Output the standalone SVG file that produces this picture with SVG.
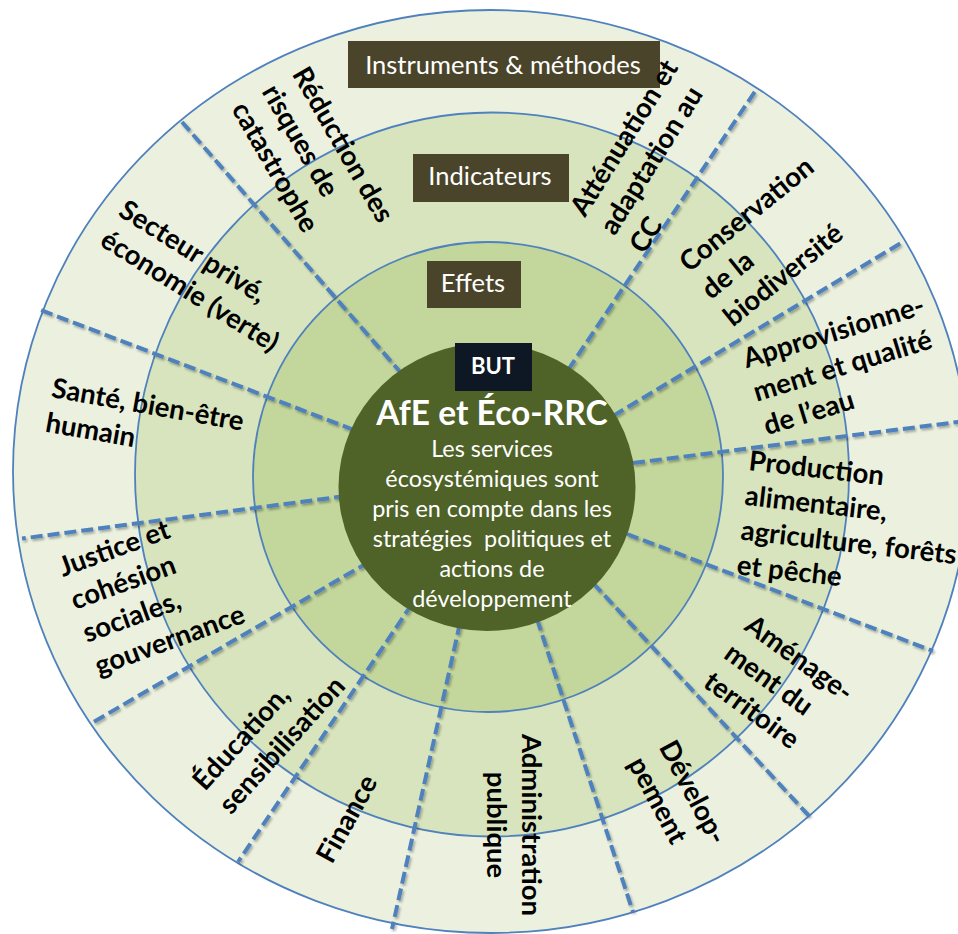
<svg xmlns="http://www.w3.org/2000/svg" width="958" height="934" viewBox="0 0 958 934">
<defs>
<style>
.ring{stroke:#4F81BD;stroke-width:1.8}
.div{stroke:#4F81BD;stroke-width:4;stroke-dasharray:12 5;fill:none}
.lbl{font-family:Lato,"Open Sans",sans-serif;font-weight:700;font-size:27.5px;fill:#000}
.box{fill:#4A452A}
.boxt{font-family:Lato,"Open Sans",sans-serif;font-size:25.5px;fill:#fff;text-anchor:middle}
.ctr{font-family:Lato,"Open Sans",sans-serif;fill:#fff;text-anchor:middle}
</style>
<filter id="sh" x="-10%" y="-10%" width="120%" height="120%">
<feDropShadow dx="1.5" dy="2" stdDeviation="1.2" flood-color="#000" flood-opacity="0.3"/>
</filter>
</defs>
<rect width="958" height="934" fill="#fff"/>
<g id="rings">
<ellipse class="ring" cx="491" cy="471.5" rx="478" ry="461.5" fill="#EBF1DE"/>
<ellipse class="ring" cx="492" cy="474.5" rx="357" ry="362" fill="#D7E4BD"/>
<circle class="ring" cx="488" cy="477" r="235" fill="#C3D69B"/>
</g>
<g id="connectors" class="div" filter="url(#sh)">
<line x1="402" y1="374" x2="182" y2="122"/>
<line x1="354" y1="430" x2="38" y2="309"/>
<line x1="346" y1="496" x2="22" y2="538.5"/>
<line x1="369" y1="562" x2="90" y2="724"/>
<line x1="412" y1="604" x2="238" y2="862"/>
<line x1="460" y1="623" x2="392" y2="929"/>
<line x1="537" y1="619" x2="633" y2="912"/>
<line x1="593" y1="583" x2="810" y2="817"/>
<line x1="627" y1="534" x2="933" y2="651"/>
<line x1="633" y1="463" x2="966" y2="421"/>
<line x1="613" y1="416" x2="901" y2="243"/>
<line x1="568" y1="370" x2="756" y2="90"/>
</g>
<g id="goal">
<ellipse cx="487" cy="487" rx="148.5" ry="144" fill="#4F6228"/>
<text class="ctr" x="492" y="425" font-size="33.5" font-weight="700">AfE et Éco-RRC</text>
<text class="ctr" font-size="23.4" xml:space="preserve"><tspan x="492" y="457">Les services</tspan><tspan x="492" y="487">écosystémiques sont</tspan><tspan x="492" y="517">pris en compte dans les</tspan><tspan x="492" y="547">stratégies  politiques et</tspan><tspan x="492" y="577">actions de</tspan><tspan x="492" y="607">développement</tspan></text>
</g>
<g id="but">
<rect x="455" y="343" width="77" height="48" fill="#0D1824"/>
<text class="ctr" x="493" y="374" font-size="22" font-weight="700">BUT</text>
</g>
<g id="instruments">
<rect class="box" x="348" y="41" width="312" height="47"/>
<text class="boxt" x="503" y="74">Instruments &amp; méthodes</text>
</g>
<g id="indicateurs">
<rect class="box" x="413" y="154" width="156" height="48"/>
<text class="boxt" x="490" y="185">Indicateurs</text>
</g>
<g id="effets">
<rect class="box" x="427" y="261" width="94" height="47"/>
<text class="boxt" x="473" y="292">Effets</text>
</g>
<g id="reduction"><text class="lbl" transform="translate(291.5,74) rotate(60)"><tspan x="0" y="0">Réduction des</tspan><tspan x="0" y="35">risques de</tspan><tspan x="0" y="70">catastrophe</tspan></text></g>
<g id="attenuation"><text class="lbl" transform="translate(585,218) rotate(-58)"><tspan x="0" y="0">Atténuation et</tspan><tspan x="0" y="35">adaptation au</tspan><tspan x="0" y="70">CC</tspan></text></g>
<g id="conservation"><text class="lbl" transform="translate(689,273) rotate(-39)"><tspan x="0" y="0">Conservation</tspan><tspan x="0" y="35">de la</tspan><tspan x="0" y="70">biodiversité</tspan></text></g>
<g id="eau"><text class="lbl" transform="translate(746.6,368.3) rotate(-17)"><tspan x="0" y="0">Approvisionne-</tspan><tspan x="0" y="35">ment et qualité</tspan><tspan x="0" y="70">de l’eau</tspan></text></g>
<g id="production"><text class="lbl" font-size="26.5" transform="translate(748,470) rotate(6.5)"><tspan x="0" y="0">Production</tspan><tspan x="0" y="35">alimentaire,</tspan><tspan x="0" y="70">agriculture, forêts</tspan><tspan x="0" y="105">et pêche</tspan></text></g>
<g id="amenagement"><text class="lbl" transform="translate(743,629) rotate(36)"><tspan x="0" y="0">Aménage-</tspan><tspan x="0" y="35">ment du</tspan><tspan x="0" y="70">territoire</tspan></text></g>
<g id="developpement"><text class="lbl" transform="translate(658.5,747) rotate(62)"><tspan x="0" y="0">Dévelop-</tspan><tspan x="0" y="35">pement</tspan></text></g>
<g id="administration"><text class="lbl" text-anchor="middle" transform="translate(522,825) rotate(90)"><tspan x="0" y="0">Administration</tspan><tspan x="0" y="35">publique</tspan></text></g>
<g id="finance"><text class="lbl" transform="translate(332,865) rotate(-61)">Finance</text></g>
<g id="education"><text class="lbl" transform="translate(205,792) rotate(-48)"><tspan x="0" y="0">Éducation,</tspan><tspan x="0" y="35">sensibilisation</tspan></text></g>
<g id="justice"><text class="lbl" transform="translate(63,577) rotate(-20)"><tspan x="0" y="0">Justice et</tspan><tspan x="0" y="35">cohésion</tspan><tspan x="0" y="70">sociales,</tspan><tspan x="0" y="105">gouvernance</tspan></text></g>
<g id="sante"><text class="lbl" transform="translate(50.5,397) rotate(10)"><tspan x="0" y="0">Santé, bien-être</tspan><tspan x="0" y="35">humain</tspan></text></g>
<g id="secteur"><text class="lbl" transform="translate(117,215) rotate(32)"><tspan x="0" y="0">Secteur privé,</tspan><tspan x="0" y="35">économie (verte)</tspan></text></g>
</svg>
